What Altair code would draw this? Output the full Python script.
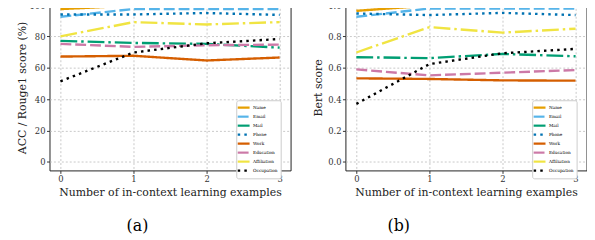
import altair as alt
import pandas as pd

steps = [0, 1, 2, 3]
series = ["Name", "Email", "Mail", "Phone", "Work", "Education", "Affiliation", "Occupation"]
colors = ["#E69F00", "#56B4E9", "#009E73", "#0072B2", "#D55E00", "#CC79A7", "#F0E442", "#000000"]
dashes = [[1, 0], [11, 4], [17, 4, 2.5, 4], [2.5, 4.2], [1, 0], [11, 4], [17, 4, 2.5, 4], [2.5, 4.2]]

acc = {
    "Name": [97.5, 99.8, 99.8, 99.8],
    "Email": [92.6, 97.6, 97.6, 97.6],
    "Mail": [77.2, 75.9, 75.3, 72.9],
    "Phone": [94.1, 94.1, 95.0, 93.8],
    "Work": [67.2, 67.7, 64.7, 66.6],
    "Education": [75.3, 73.4, 74.4, 74.8],
    "Affiliation": [80.1, 89.2, 87.7, 89.2],
    "Occupation": [51.4, 69.8, 75.7, 78.4],
}
bert = {
    "Name": [0.964, 0.998, 0.998, 0.998],
    "Email": [0.926, 0.979, 0.979, 0.979],
    "Mail": [0.668, 0.662, 0.689, 0.674],
    "Phone": [0.947, 0.937, 0.951, 0.937],
    "Work": [0.533, 0.529, 0.520, 0.518],
    "Education": [0.590, 0.552, 0.569, 0.586],
    "Affiliation": [0.698, 0.860, 0.825, 0.850],
    "Occupation": [0.370, 0.624, 0.693, 0.721],
}

FONT = "DejaVu Serif"


def to_df(d):
    rows = []
    for i, s in enumerate(series):
        for x, v in zip(steps, d[s]):
            rows.append({"x": x, "value": v, "series": s, "ord": i})
    return pd.DataFrame(rows)


def axis(values, title, fmt, tpad, **kw):
    return alt.Axis(values=values, title=title, format=fmt, titlePadding=tpad,
                    labelFont=FONT, titleFont=FONT, labelFontSize=8.5, titleFontSize=11,
                    titleFontWeight="normal", labelColor="#333", titleColor="#222",
                    domain=False, tickColor="#333", tickSize=3, labelPadding=1.5,
                    grid=True, gridColor="#bbbbbb", gridDash=[2, 2], gridWidth=0.8, **kw)


def panel(d, ytitle, ydom, yvals, fmt, caption, cdx):
    return alt.Chart(to_df(d)).mark_line(strokeWidth=2.4, clip=True).encode(
        x=alt.X("x:Q", scale=alt.Scale(domain=[-0.15, 3.15], nice=False, zero=False),
                axis=axis(steps, "Number of in-context learning examples", "d", 3)),
        y=alt.Y("value:Q", scale=alt.Scale(domain=ydom, nice=False, zero=False),
                axis=axis(yvals, ytitle, fmt, 3, titleX=-27, titleY=84, titleBaseline="middle",
                          titleAlign="center")),
        color=alt.Color("series:N", scale=alt.Scale(domain=series, range=colors),
                        legend=alt.Legend(title=None, orient="none", legendX=189, legendY=97,
                                          symbolType="M-2,0H2", symbolSize=36, symbolStrokeWidth=2.2,
                                          labelFontSize=4.3, labelFont=FONT, rowPadding=0.1,
                                          padding=3, fillColor="white", strokeColor="#cccccc",
                                          cornerRadius=2, labelOffset=5)),
        strokeDash=alt.StrokeDash("series:N", scale=alt.Scale(domain=series, range=dashes), legend=None),
        order=alt.Order("ord:Q"),
    ).properties(
        width=244, height=168,
        title=alt.TitleParams(caption, orient="bottom", anchor="middle", frame="group",
                              fontSize=16, font=FONT, fontWeight="normal", dx=cdx, offset=21),
    )


a = panel(acc, "ACC / Rouge1 score (%)", [-5.5, 100.5], [0, 20, 40, 60, 80, 100], "d", "(a)", -33)
b = panel(bert, "Bert score", [-0.055, 1.005], [0.0, 0.2, 0.4, 0.6, 0.8, 1.0], ".1f", "(b)", -68)

chart = alt.hconcat(a, b, spacing=20.5).resolve_scale(
    color="independent", strokeDash="independent", y="independent"
).resolve_legend(color="independent", strokeDash="independent").properties(
    padding={"left": 8, "top": -9, "right": 0, "bottom": 0}
).configure(font=FONT).configure_view(
    stroke="#222222", strokeWidth=1
)

chart.save("out.html", embed_options={"renderer": "svg", "actions": False})
